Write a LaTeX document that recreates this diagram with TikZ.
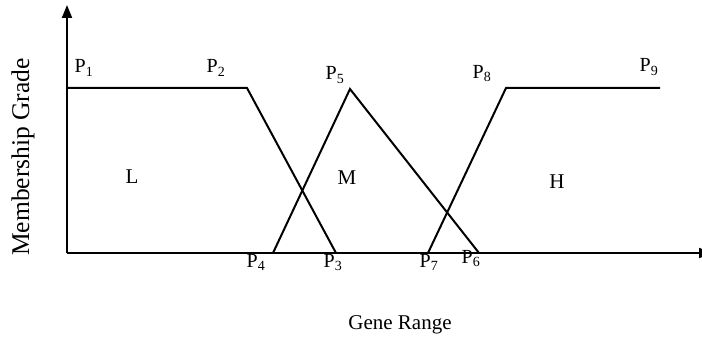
\documentclass[tikz,border=0pt]{standalone}
\usepackage{fontspec}
\setmainfont{Liberation Serif}
\usetikzlibrary{arrows.meta}
\begin{document}
\begin{tikzpicture}[x=1pt,y=-1pt,
  curve/.style={line width=2pt, line join=miter},
  axis/.style={line width=2pt, -{Triangle[length=13pt,width=10pt]}},
  plabel/.style={anchor=base, inner sep=0pt, font=\fontsize{20}{22}\selectfont},
  region/.style={anchor=center, inner sep=0pt, font=\fontsize{21}{23}\selectfont},
  title/.style={inner sep=0pt, font=\fontsize{21}{24}\selectfont}]
\useasboundingbox (0,0) rectangle (702,337);
% axes
\coordinate (O) at (67,253);
\coordinate (Ytop) at (67,5);
\coordinate (Xend) at (712,253);
\draw[axis] (O) -- (Ytop);
\draw[axis] (O) -- (Xend);
% points
\coordinate (p1) at (67,88);
\coordinate (p2) at (247,88);
\coordinate (p3) at (336,253);
\coordinate (p4) at (273,253);
\coordinate (p5) at (350,89);
\coordinate (p6) at (479,253);
\coordinate (p7) at (428,253);
\coordinate (p8) at (506,88);
\coordinate (p9) at (660,88);
% membership functions
\draw[curve] (p1) -- (p2) -- (p3);
\draw[curve] (p4) -- (p5) -- (p6);
\draw[curve] (p7) -- (p8) -- (p9);
% point labels
\node[plabel] (l1) at (84,73) {P\textsubscript{1}};
\node[plabel] (l2) at (216,73) {P\textsubscript{2}};
\node[plabel] (l5) at (335,80) {P\textsubscript{5}};
\node[plabel] (l8) at (482,78) {P\textsubscript{8}};
\node[plabel] (l9) at (649,72) {P\textsubscript{9}};
\node[plabel] (l4) at (256,267) {P\textsubscript{4}};
\node[plabel] (l3) at (333,267) {P\textsubscript{3}};
\node[plabel] (l7) at (429,267) {P\textsubscript{7}};
\node[plabel] (l6) at (471,263) {P\textsubscript{6}};
% region labels
\node[region] (L) at (132,177) {L};
\node[region] (M) at (347,178) {M};
\node[region] (H) at (557,182) {H};
% axis titles
\node[title, anchor=base] (xt) at (400,329) {Gene Range};
\node[title, rotate=90, font=\fontsize{25.5}{27}\selectfont] (yt) at (23,157) {Membership Grade};
\end{tikzpicture}
\end{document}
